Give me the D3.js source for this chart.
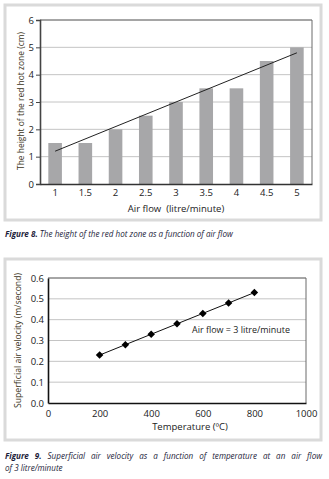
<!DOCTYPE html>
<html><head><meta charset="utf-8">
<script src="https://cdn.jsdelivr.net/npm/d3@7"></script>
<style>
html,body{margin:0;padding:0;background:#fff;}
svg{display:block;}
</style></head>
<body>
<svg id="c" width="329" height="479"></svg>
<script>
// ---------- data ----------
const airFlowCategories = ["1","1.5","2","2.5","3","3.5","4","4.5","5"];
const hotZoneHeights = [1.5,1.5,2,2.5,3,3.5,3.5,4.5,5];
const heightTicks = [0,1,2,3,4,5,6];

const temperatures = [200,300,400,500,600,700,800];
const velocities = [0.23,0.28,0.33,0.38,0.43,0.48,0.53];
const temperatureTicks = [0,200,400,600,800,1000];
const velocityTicks = [0,0.1,0.2,0.3,0.4,0.5,0.6];

const svg = d3.select("#c");
const FONT = '"Open Sans",sans-serif';
const CAPFONT = '"Open Sans",sans-serif';
const TXT = "#222";
const CAPC = "#1d1d3a";

// ---------- frames ----------
function frame(x0,y0,x1,y1){
  svg.append("rect").attr("x",x0).attr("y",y0).attr("width",x1-x0).attr("height",y1-y0)
    .attr("fill","#fff").attr("stroke","#dadada").attr("stroke-width",3);
}
frame(5,5,321,220);
frame(5,259,321,440);

// ---------- chart 1 ----------
{
  const L=40,R=312,T=20,B=184;
  const x = d3.scaleBand().domain(airFlowCategories).range([L,R]).paddingInner(0.55).paddingOuter(0.275);
  const y = d3.scaleLinear().domain([0,6]).range([B,T]);
  const g = svg.append("g");
  g.selectAll("line.grid").data(heightTicks.filter(d=>d>0)).join("line")
    .attr("x1",L).attr("x2",R).attr("y1",d=>y(d)).attr("y2",d=>y(d))
    .attr("stroke","#c4c4c4").attr("stroke-width",1);
  g.selectAll("rect.bar").data(hotZoneHeights).join("rect")
    .attr("x",(d,i)=>x(airFlowCategories[i])).attr("width",x.bandwidth())
    .attr("y",d=>y(d)).attr("height",d=>B-y(d)).attr("fill","#a7a7a9");
  // least-squares trend line through the bars
  const n=hotZoneHeights.length, idx=d3.range(n);
  const mx=d3.mean(idx), my=d3.mean(hotZoneHeights);
  const slope=d3.sum(idx,i=>(i-mx)*(hotZoneHeights[i]-my))/d3.sum(idx,i=>(i-mx)*(i-mx));
  const icpt=my-slope*mx;
  const cx=i=>x(airFlowCategories[i])+x.bandwidth()/2;
  g.append("line").attr("x1",cx(0)).attr("y1",y(icpt)).attr("x2",cx(n-1)).attr("y2",y(icpt+slope*(n-1)))
    .attr("stroke","#222").attr("stroke-width",1);
  g.append("path").attr("d",`M${L},${T}H${R}V${B}`).attr("fill","none").attr("stroke","#6a6a6a").attr("stroke-width",1);
  const ya = g.append("g").attr("transform",`translate(${L},0)`)
    .call(d3.axisLeft(y).tickValues(heightTicks).tickSize(4).tickPadding(2).tickFormat(d3.format("d")));
  ya.select(".domain").attr("stroke","#444").attr("stroke-width",1.6);
  ya.selectAll(".tick line").attr("stroke","#444");
  ya.selectAll("text").attr("font-size",9.5).attr("fill",TXT).attr("font-family",FONT);
  const xa = g.append("g").attr("transform",`translate(0,${B})`)
    .call(d3.axisBottom(x).tickSize(0).tickPadding(5));
  xa.select(".domain").attr("stroke","#333").attr("stroke-width",1.4);
  xa.selectAll("text").attr("font-size",9.5).attr("fill",TXT).attr("font-family",FONT);
  g.append("text").attr("x",176).attr("y",212).attr("text-anchor","middle")
    .attr("font-family",FONT).attr("font-size",9.5).attr("fill",TXT)
    .attr("xml:space","preserve").text("Air flow  (litre/minute)");
  g.append("text").attr("transform",`translate(24,101) rotate(-90)`).attr("text-anchor","middle")
    .attr("font-family",FONT).attr("font-size",9).attr("fill","#3a3320")
    .attr("textLength",138).attr("lengthAdjust","spacingAndGlyphs")
    .text("The height of the red hot zone (cm)");
}

// ---------- captions (condensed italic) ----------
const CAPSIZE = 9.5;
function capWord(parent,txt,isBold){
  return parent.append("text").attr("font-family",CAPFONT).attr("font-size",CAPSIZE)
    .attr("font-style","italic").attr("font-weight",isBold?"bold":"normal")
    .attr("fill",CAPC).attr("xml:space","preserve").text(txt);
}
let K;
{
  const g = svg.append("g");
  const a = capWord(g,"Figure 8.",true);
  const b = capWord(g," The height of the red hot zone as a function of air flow",false);
  const wa = a.node().getComputedTextLength(), wb = b.node().getComputedTextLength();
  b.attr("x",wa);
  K = 228/(wa+wb);
  g.attr("transform",`translate(5,237) scale(${K},1)`);
}
{
  const words = ["Figure","9.","Superficial","air","velocity","as","a","function","of","temperature","at","an","air","flow"];
  const nBold = 2;
  const left = 5, right = 322;
  const g = svg.append("g").attr("transform",`translate(${left},459) scale(${K},1)`);
  const els = words.map((w,i)=>capWord(g,w,i<nBold));
  const widths = els.map(e=>e.node().getComputedTextLength());
  const avail = (right-left)/K;
  const gap = (avail-d3.sum(widths))/(words.length-1);
  let cx = 0;
  els.forEach((e,i)=>{ e.attr("x",cx); cx += widths[i]+gap; });
  const g2 = svg.append("g").attr("transform",`translate(${left},471) scale(${K},1)`);
  capWord(g2,"of 3 litre/minute",false);
}

// ---------- chart 2 ----------
{
  const L=48,R=306,T=278,B=403;
  const x = d3.scaleLinear().domain([0,1000]).range([L,R]);
  const y = d3.scaleLinear().domain([0,0.6]).range([B,T]);
  const g = svg.append("g");
  g.selectAll("line.grid").data(velocityTicks.filter(d=>d>0)).join("line")
    .attr("x1",L).attr("x2",R).attr("y1",d=>y(d)).attr("y2",d=>y(d))
    .attr("stroke","#c4c4c4").attr("stroke-width",1);
  g.append("path").attr("d",`M${L},${T}H${R}V${B}`).attr("fill","none").attr("stroke","#6a6a6a").attr("stroke-width",1);
  const pts = temperatures.map((t,i)=>[t,velocities[i]]);
  g.append("path").datum(pts).attr("d",d3.line().x(d=>x(d[0])).y(d=>y(d[1])))
    .attr("fill","none").attr("stroke","#111").attr("stroke-width",1);
  g.selectAll("path.pt").data(pts).join("path")
    .attr("transform",d=>`translate(${x(d[0])},${y(d[1])})`)
    .attr("d",d3.symbol(d3.symbolDiamond2,36)).attr("fill","#000");
  const ya = g.append("g").attr("transform",`translate(${L},0)`)
    .call(d3.axisLeft(y).tickValues(velocityTicks).tickSize(0).tickPadding(4).tickFormat(d3.format(".1f")));
  ya.select(".domain").attr("stroke","#111").attr("stroke-width",1.6);
  ya.selectAll("text").attr("font-size",9.5).attr("fill",TXT).attr("font-family",FONT);
  const xa = g.append("g").attr("transform",`translate(0,${B})`)
    .call(d3.axisBottom(x).tickValues(temperatureTicks).tickSize(0).tickPadding(7).tickFormat(d3.format("d")));
  xa.select(".domain").attr("stroke","#111").attr("stroke-width",1.6);
  xa.selectAll("text").attr("font-size",9.5).attr("fill",TXT).attr("font-family",FONT);
  g.append("text").attr("x",190).attr("y",430).attr("text-anchor","middle")
    .attr("font-family",FONT).attr("font-size",9.5).attr("fill",TXT).text("Temperature (ºC)");
  g.append("text").attr("transform",`translate(21,340.5) rotate(-90)`).attr("text-anchor","middle")
    .attr("font-family",FONT).attr("font-size",9).attr("fill","#3a3320")
    .attr("textLength",135).attr("lengthAdjust","spacingAndGlyphs")
    .text("Superficial air velocity (m/second)");
  g.append("text").attr("x",192).attr("y",333)
    .attr("font-family",FONT).attr("font-size",9).attr("fill",TXT)
    .attr("textLength",98).attr("lengthAdjust","spacingAndGlyphs")
    .text("Air flow = 3 litre/minute");
}
</script>
</body></html>
